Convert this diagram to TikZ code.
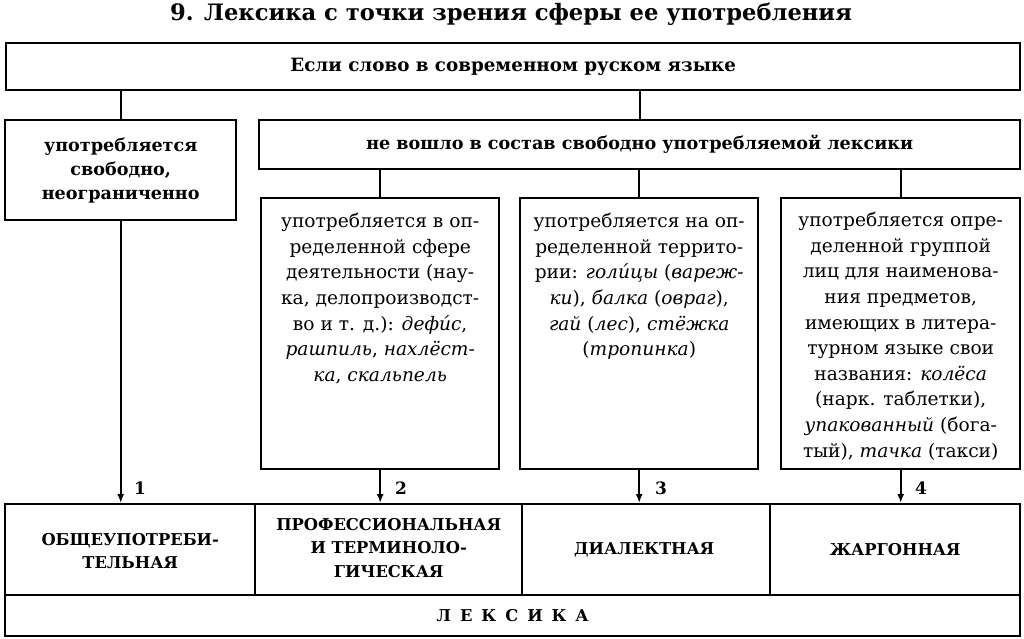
\documentclass[tikz,border=0pt]{standalone}
\usepackage{fontspec}
\setmainfont{DejaVu Serif}
\usetikzlibrary{arrows.meta}
\begin{document}
\begin{tikzpicture}[x=1pt,y=-1pt,
  box/.style={draw,line width=2.4pt,anchor=north west,inner sep=0pt},
  conn/.style={line width=2pt},
  arr/.style={line width=2pt,-{Latex[length=9pt,width=7pt]}},
  bodytxt/.style={anchor=north,align=center,font=\fontsize{18.6}{25.6}\selectfont,inner sep=0pt},
  boldtxt/.style={align=center,font=\fontsize{17.6}{24}\selectfont\bfseries,inner sep=0pt},
  captxt/.style={align=center,font=\fontsize{16.3}{23}\selectfont\bfseries,inner sep=0pt},
  num/.style={font=\fontsize{17}{17}\selectfont\bfseries,inner sep=0pt}]
\useasboundingbox (0,0) rectangle (1024,638);
% title
\node[font=\fontsize{22.6}{22.6}\selectfont\bfseries,inner sep=0pt] (title) at (511,14) {9. Лексика с точки зрения сферы ее употребления};
% top box
\node[box,minimum width=1014pt,minimum height=47pt] (top) at (5,42) {};
\node[boldtxt,font=\fontsize{18.3}{18}\selectfont\bfseries] (toptxt) at (top.center) {Если слово в современном руском языке};
% left box
\node[box,minimum width=231pt,minimum height=100pt] (lb) at (4,119) {};
\node[boldtxt] (lbtxt) at (lb.center) {употребляется\\свободно,\\неограниченно};
% wide box
\node[box,minimum width=761pt,minimum height=49pt] (wide) at (258,119) {};
\node[boldtxt] (widetxt) at (wide.center) {не вошло в состав свободно употребляемой лексики};
% three boxes
\node[box,minimum width=238pt,minimum height=271pt] (b2) at (260,197) {};
\node[box,minimum width=238pt,minimum height=271pt] (b3) at (519,197) {};
\node[box,minimum width=239pt,minimum height=271pt] (b4) at (780,197) {};
\node[bodytxt] (b2txt) at ([yshift=-16pt]b2.north) {употребляется в оп-\\ределенной сфере\\деятельности (нау-\\ка, делопроизводст-\\во и т. д.): \textit{дефи́с},\\\textit{рашпиль}, \textit{нахлёст-}\\\textit{ка}, \textit{скальпель}};
\node[bodytxt] (b3txt) at ([yshift=-16pt]b3.north) {употребляется на оп-\\ределенной террито-\\рии: \textit{голи́цы} (\textit{вареж-}\\\textit{ки}), \textit{балка} (\textit{овраг}),\\\textit{гай} (\textit{лес}), \textit{стёжка}\\(\textit{тропинка})};
\node[bodytxt] (b4txt) at ([yshift=-15pt]b4.north) {употребляется опре-\\деленной группой\\лиц для наименова-\\ния предметов,\\имеющих в литера-\\турном языке свои\\названия: \textit{колёса}\\(нарк. таблетки),\\\textit{упакованный} (бога-\\тый), \textit{тачка} (такси)};
% bottom row
\node[box,minimum width=250pt,minimum height=91pt] (c1) at (4,503) {};
\node[box,minimum width=267pt,minimum height=91pt] (c2) at (254,503) {};
\node[box,minimum width=248pt,minimum height=91pt] (c3) at (521,503) {};
\node[box,minimum width=250pt,minimum height=91pt] (c4) at (769,503) {};
\node[box,minimum width=1015pt,minimum height=41pt] (lex) at (4,594) {};
\node[captxt] (c1txt) at ([yshift=-1pt]c1.center) {ОБЩЕУПОТРЕБИ-\\ТЕЛЬНАЯ};
\node[captxt,font=\fontsize{16.3}{23.5}\selectfont\bfseries] (c2txt) at ([yshift=2pt]c2.center) {ПРОФЕССИОНАЛЬНАЯ\\И ТЕРМИНОЛО-\\ГИЧЕСКАЯ};
\node[captxt] (c3txt) at ([xshift=-2pt]c3.center) {ДИАЛЕКТНАЯ};
\node[captxt] (c4txt) at (c4.center) {ЖАРГОННАЯ};
\node[captxt] (lextxt) at (lex.center) {Л\hspace{9pt}Е\hspace{9pt}К\hspace{9pt}С\hspace{9pt}И\hspace{9pt}К\hspace{9pt}А};
% connectors
\draw[conn] (top.south -| lb.north) -- (lb.north);
\draw[conn] (top.south -| wide.north) -- (wide.north);
\draw[conn] (wide.south -| b2.north) -- (b2.north);
\draw[conn] (wide.south -| b3.north) -- (b3.north);
\draw[conn] (wide.south -| b4.north) -- (b4.north);
\draw[arr] (lb.south) -- (lb.south |- c1.north);
\draw[arr] (b2.south) -- (b2.south |- c2.north);
\draw[arr] (b3.south) -- (b3.south |- c3.north);
\draw[arr] (b4.south) -- (b4.south |- c4.north);
\node[num] (n1) at (140,488) {1};
\node[num] (n2) at (401,488) {2};
\node[num] (n3) at (661,488) {3};
\node[num] (n4) at (921,488) {4};
\end{tikzpicture}
\end{document}
